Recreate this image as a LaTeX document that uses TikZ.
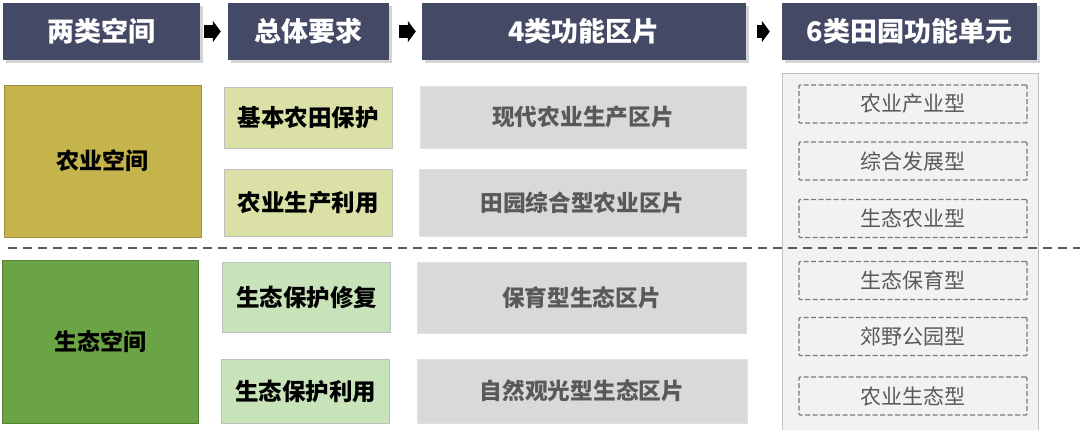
\documentclass[tikz,border=0pt]{standalone}
\usepackage{fontspec}
\setmainfont{Noto Sans CJK SC}
\usepackage{tikz}
\usetikzlibrary{arrows.meta, shadows}

\definecolor{headblue}{RGB}{68,74,102}
\definecolor{olive}{RGB}{197,180,75}
\definecolor{leafgreen}{RGB}{106,164,68}
\definecolor{paleolive}{RGB}{219,225,166}
\definecolor{palegreen}{RGB}{200,226,185}
\definecolor{zonegray}{RGB}{217,217,217}
\definecolor{textgray}{RGB}{89,89,89}
\definecolor{panelgray}{RGB}{242,242,242}

\begin{document}
\begin{tikzpicture}[x=1pt, y=-1pt, inner sep=0pt,
  header/.style={rectangle, fill=headblue, text=white, minimum height=57pt,
    font=\fontsize{27}{30}\selectfont\bfseries,
    drop shadow={shadow xshift=2.5pt, shadow yshift=-2.5pt, opacity=0.35}},
  space/.style={rectangle, draw=#1!80!black, line width=0.6pt, fill=#1,
    font=\fontsize{23}{26}\selectfont\bfseries},
  need/.style={rectangle, draw=black!25, line width=0.8pt, fill=#1,
    minimum width=168pt, font=\fontsize{23.5}{26}\selectfont\bfseries},
  zone/.style={rectangle, draw=black!12, line width=0.8pt, fill=zonegray, text=textgray,
    font=\fontsize{22.7}{25}\selectfont\bfseries},
  unit/.style={rectangle, draw=black!52, dash pattern=on 5pt off 2.5pt, line width=1.4pt,
    rounded corners=1pt, minimum width=228pt, minimum height=38pt, text=textgray,
    font=\fontsize{21}{24}\selectfont},
  blockarrow/.style={line width=13pt, -{Triangle[length=8pt, width=21pt]}}]

\useasboundingbox (0,0) rectangle (1080,429);

% Headers
\node[header, minimum width=197pt] (H1) at (101.5,31.5) {两类空间};
\node[header, minimum width=161pt] (H2) at (308.5,31.5) {总体要求};
\node[header, minimum width=324pt] (H3) at (584,31.5) {4类功能区片};
\node[header, minimum width=255pt] (H4) at (909.5,31.5) {6类田园功能单元};

\draw[blockarrow, shorten <=4pt, shorten >=7pt] (H1) -- (H2);
\draw[blockarrow, shorten <=10pt, shorten >=6pt] (H2) -- (H3);
\draw[blockarrow, shorten <=11pt, shorten >=12pt] (H3) -- (H4);

% Two spaces
\node[space=olive, minimum width=197pt, minimum height=152pt] (S1) at (102.5,161) {农业空间};
\node[space=leafgreen, minimum width=196pt, minimum height=163pt] (S2) at (100,341.5) {生态空间};

% Requirements
\node[need=paleolive, minimum height=61pt] (R1) at (308,117.5) {基本农田保护};
\node[need=paleolive, minimum height=67pt] (R2) at (308,202.5) {农业生产利用};
\node[need=palegreen, minimum height=70pt] (R3) at (306.5,297) {生态保护修复};
\node[need=palegreen, minimum height=64pt] (R4) at (305.5,391) {生态保护利用};

% Function zones
\node[zone, minimum width=326pt, minimum height=62pt] (Z1) at (583,117) {现代农业生产区片};
\node[zone, minimum width=327pt, minimum height=67pt] (Z2) at (582.5,202.5) {田园综合型农业区片};
\node[zone, minimum width=329pt, minimum height=71pt] (Z3) at (581.5,297.5) {保育型生态区片};
\node[zone, minimum width=330pt, minimum height=64pt] (Z4) at (582,391) {自然观光型生态区片};

% Unit panel
\draw[fill=panelgray, draw=black!25, line width=0.8pt] (782,73) rectangle (1038,433);
\node[unit] (U1) at (913,104) {农业产业型};
\node[unit] (U2) at (913,161) {综合发展型};
\node[unit] (U3) at (913,218.5) {生态农业型};
\node[unit] (U4) at (913,280.5) {生态保育型};
\node[unit] (U5) at (913,336.5) {郊野公园型};
\node[unit] (U6) at (913,396) {农业生态型};

% Divider
\coordinate (D1) at (8,248);
\coordinate (D2) at (1080,248);
\draw[textgray, line width=2pt, dash pattern=on 9pt off 6pt] (D1) -- (D2);
\end{tikzpicture}
\end{document}
